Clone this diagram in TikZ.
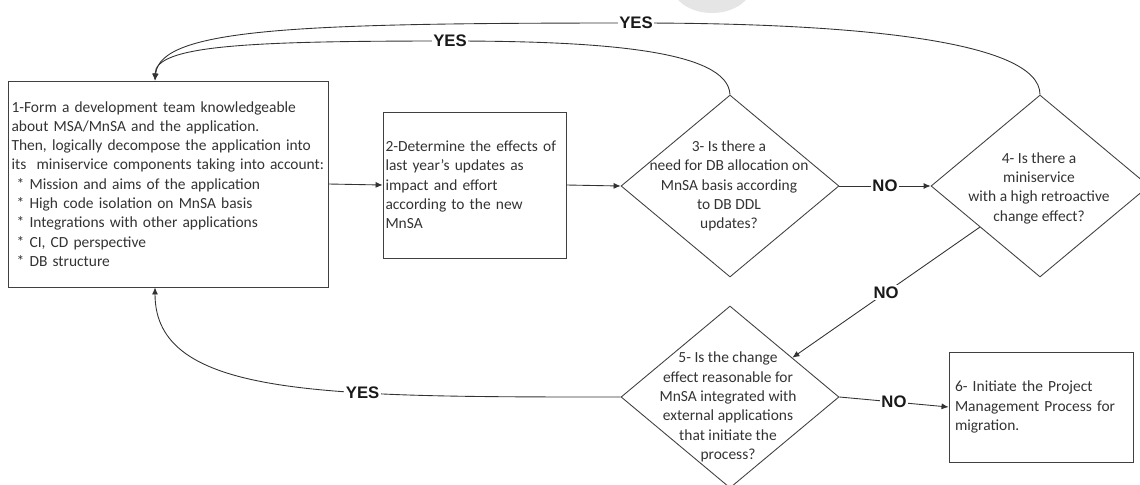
\documentclass[tikz,border=0pt]{standalone}
\usepackage{fontspec}
\setmainfont{Carlito}
\newfontfamily\yesnofont{Liberation Sans}
\usetikzlibrary{shapes.geometric,arrows.meta,calc}
\tikzset{
  box/.style={draw=black!75, line width=0.5pt, align=left, text=black!80,
    font=\fontsize{8.8}{11}\selectfont, inner xsep=0.07cm},
  dec/.style={draw=black!75, line width=0.5pt, shape=diamond,
    minimum width=4.36cm, minimum height=3.64cm, inner sep=0pt},
  dectext/.style={align=center, text=black!80, font=\fontsize{8.8}{11}\selectfont},
  link/.style={draw=black!80, line width=0.5pt, -{Latex[length=4pt,width=3.5pt]}},
  yesno/.style={fill=white, inner sep=1pt, text=black!90,
    font=\yesnofont\bfseries\fontsize{9.5}{11}\selectfont}
}
\begin{document}
\begin{tikzpicture}[x=0.02cm, y=-0.02cm]
\useasboundingbox (0,0) rectangle (1140,484);
\fill[black!10] (712,-15) ellipse [x radius=0.8cm, y radius=0.56cm];

\node[box, text width=6.26cm, minimum width=6.4cm, minimum height=4.12cm] (form) at (168,184) {1-Form a development team knowledgeable\\about MSA/MnSA and the application.\\Then, logically decompose the application into\\its~ miniservice components taking into account:\\\ * Mission and aims of the application\\\ * High code isolation on MnSA basis\\\ * Integrations with other applications\\\ * CI, CD perspective\\\ * DB structure};
\node[box, text width=3.56cm, minimum width=3.66cm, minimum height=2.92cm, inner xsep=0.05cm] (effects) at (474.5,185) {2-Determine the effects of\\last year's updates as\\impact and effort\\according to the new\\MnSA};
\node[dec] (dballoc) at (730,186) {};
\node[dectext] (dballoctext) at (729,186) {3- Is there a\\need for DB allocation on\\MnSA basis according\\to DB DDL\\updates?};
\node[dec] (retro) at (1040,186) {};
\node[dectext] (retrotext) at (1039,188) {4- Is there a\\miniservice\\with a high retroactive\\change effect?};
\node[dec] (reason) at (730,397) {};
\node[dectext] (reasontext) at (728,407) {5- Is the change\\effect reasonable for\\MnSA integrated with\\external applications\\that initiate the\\process?};
\node[box, text width=3.44cm, minimum width=3.68cm, minimum height=2.2cm, inner xsep=0.12cm] (pmp) at (1041,407) {6- Initiate the Project\\Management Process for\\migration.};

\coordinate (formtop) at ([xshift=-0.26cm]form.north);
\coordinate (formbot) at ([xshift=-0.26cm]form.south);

\draw[link] (form.east) -- (effects.west);
\draw[link] (effects.east) -- (dballoc.west);
\draw[link] (dballoc.east) -- node[yesno] {NO} (retro.west);
\draw[link] ($(retro.west)!0.45!(retro.south)$) -- node[yesno] {NO} ($(reason.north)!0.57!(reason.east)$);
\draw[link] (reason.east) -- node[yesno] {NO} (pmp.west);
\draw[link] (reason.west) .. controls (321,397) and (155,397) .. node[yesno, pos=0.34] {YES} (formbot);
\draw[link] (dballoc.north) .. controls (728,50) and (600,41) .. (450,41) node[yesno] {YES} .. controls (250,41) and (155,45) .. (formtop);
\draw[link] (retro.north) .. controls (1040,40) and (850,23) .. (636,23) node[yesno] {YES} .. controls (300,23) and (160,28) .. (formtop);
\end{tikzpicture}
\end{document}
